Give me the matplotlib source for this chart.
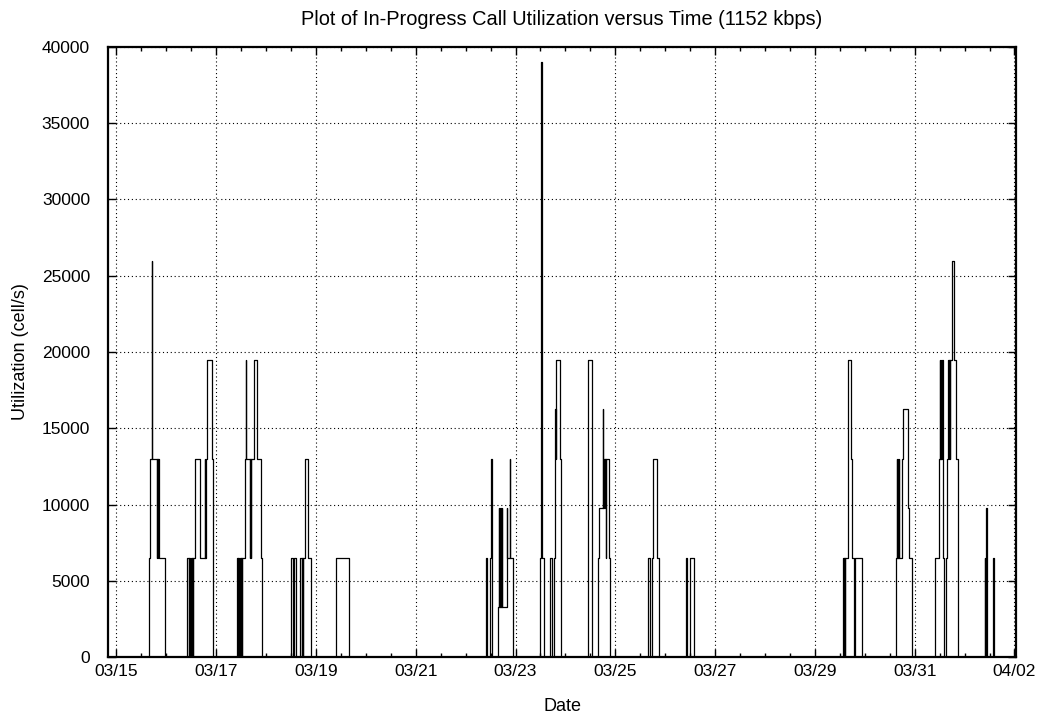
import matplotlib
matplotlib.use('Agg')
import matplotlib.pyplot as plt
from matplotlib.ticker import MultipleLocator

plt.rcParams['font.family'] = ['Liberation Sans', 'DejaVu Sans']

# time in days since 03/15 00:00, utilization in cell/s (value holds until next time)
t_start, t_end = -0.166, 18.03
days = [
    t_start,
    # 03/15
    0.655, 0.675, 0.708, 0.712, 0.815, 0.825, 0.835, 0.845, 0.850, 0.976,
    # 03/16
    1.423, 1.447, 1.457, 1.477, 1.487, 1.507, 1.517, 1.537, 1.543, 1.577,
    1.677, 1.768, 1.778, 1.788, 1.812, 1.918, 1.944,
    # 03/17
    2.413, 2.433, 2.443, 2.463, 2.473, 2.493, 2.503, 2.515, 2.520, 2.570,
    2.594, 2.600, 2.679, 2.686, 2.692, 2.699, 2.766, 2.820, 2.900, 2.914,
    # 03/18
    3.501, 3.547, 3.567, 3.607, 3.687, 3.717, 3.727, 3.737, 3.745, 3.778,
    3.848, 3.902,
    # 03/19
    4.403, 4.669,
    # 03/22
    7.403, 7.429, 7.489, 7.513, 7.519, 7.535, 7.649, 7.669, 7.679, 7.689,
    7.699, 7.709, 7.719, 7.729, 7.735, 7.824, 7.836, 7.880, 7.887, 7.956,
    # 03/23
    8.497, 8.515, 8.521, 8.565, 8.685, 8.731, 8.765, 8.785, 8.798, 8.805,
    8.810, 8.818, 8.898, 8.918,
    # 03/24
    9.447, 9.453, 9.459, 9.533, 9.539, 9.647, 9.679, 9.757, 9.763, 9.780,
    9.790, 9.800, 9.810, 9.816, 9.880, 9.900,
    # 03/25
    10.661, 10.695, 10.729, 10.762, 10.830, 10.876,
    # 03/26
    11.411, 11.431, 11.497, 11.577,
    # 03/29
    14.569, 14.579, 14.585, 14.595, 14.605, 14.665, 14.669, 14.717, 14.737,
    14.787, 14.797, 14.938,
    # 03/30
    15.619, 15.639, 15.649, 15.659, 15.669, 15.679, 15.685, 15.739, 15.772,
    15.872, 15.892, 15.940,
    # 03/31
    16.407, 16.493, 16.507, 16.515, 16.523, 16.531, 16.539, 16.547, 16.553,
    16.561, 16.567, 16.581, 16.627, 16.647, 16.673, 16.683, 16.693, 16.703,
    16.713, 16.741, 16.794, 16.822, 16.862, 16.866,
    # 04/01
    17.409, 17.419, 17.423, 17.433, 17.439, 17.445, 17.455, 17.575, 17.589,
    t_end,
]
util = [
    0,
    6500, 13000, 26000, 13000, 6500, 13000, 6500, 13000, 6500, 0,
    6500, 0, 6500, 0, 6500, 0, 6500, 0, 6500, 13000,
    6500, 13000, 6500, 13000, 19500, 13000, 0,
    6500, 0, 6500, 0, 6500, 0, 6500, 0, 6500, 13000,
    19500, 13000, 6500, 13000, 6500, 13000, 19500, 13000, 6500, 0,
    6500, 0, 6500, 0, 6500, 0, 6500, 0, 6500, 13000,
    6500, 0,
    6500, 0,
    6500, 0, 6500, 13000, 6500, 0, 3250, 9750, 3250, 9750,
    3250, 9750, 3250, 9750, 3250, 9750, 6500, 13000, 6500, 0,
    6500, 39000, 6500, 0, 6500, 0, 6500, 13000, 16250, 13000,
    16250, 19500, 13000, 0,
    6500, 13000, 19500, 13000, 0, 6500, 9750, 16250, 9750, 13000,
    9750, 13000, 6500, 13000, 6500, 0,
    6500, 0, 6500, 13000, 6500, 0,
    6500, 0, 6500, 0,
    6500, 0, 6500, 0, 6500, 13000, 19500, 13000, 6500,
    0, 6500, 0,
    6500, 13000, 6500, 13000, 6500, 13000, 6500, 13000, 16250,
    9750, 6500, 0,
    6500, 13000, 19500, 13000, 19500, 13000, 19500, 13000, 19500,
    13000, 6500, 0, 6500, 13000, 19500, 13000, 19500, 13000,
    19500, 26000, 19500, 13000, 6500, 0,
    6500, 0, 6500, 3250, 9750, 6500, 0, 6500, 0,
    0,
]
tick_days = [0, 2, 4, 6, 8, 10, 12, 14, 16, 18]
tick_labels = ['03/15', '03/17', '03/19', '03/21', '03/23',
               '03/25', '03/27', '03/29', '03/31', '04/02']

fig = plt.figure(figsize=(10.46, 7.24), dpi=100)
ax = fig.add_axes([0.1033, 0.0925, 0.868, 0.8426])

ax.step(days, util, where='post', color='black', linewidth=0.9)

ax.set_xlim(t_start, t_end)
ax.set_ylim(0, 40000)
ax.set_xticks(tick_days)
ax.set_xticklabels(tick_labels)
ax.xaxis.set_minor_locator(MultipleLocator(0.5))
ax.yaxis.set_major_locator(MultipleLocator(5000))

ax.grid(True, which='major', color='black', linestyle=(0, (1, 2.5)), linewidth=0.8)
ax.tick_params(which='both', direction='in', top=True, right=True, labelsize=12.5, width=1)
ax.tick_params(which='major', length=6)
ax.tick_params(axis='x', which='major', pad=5)
ax.tick_params(axis='y', which='major', pad=13)
ax.tick_params(which='minor', length=3)
for s in ax.spines.values():
    s.set_linewidth(1.6)

ax.set_title('Plot of In-Progress Call Utilization versus Time (1152 kbps)', fontsize=14.4, pad=16)
ax.set_xlabel('Date', fontsize=13, labelpad=14)
ax.set_ylabel('Utilization (cell/s)', fontsize=13, labelpad=9)

fig.savefig('out.png', dpi=100)
